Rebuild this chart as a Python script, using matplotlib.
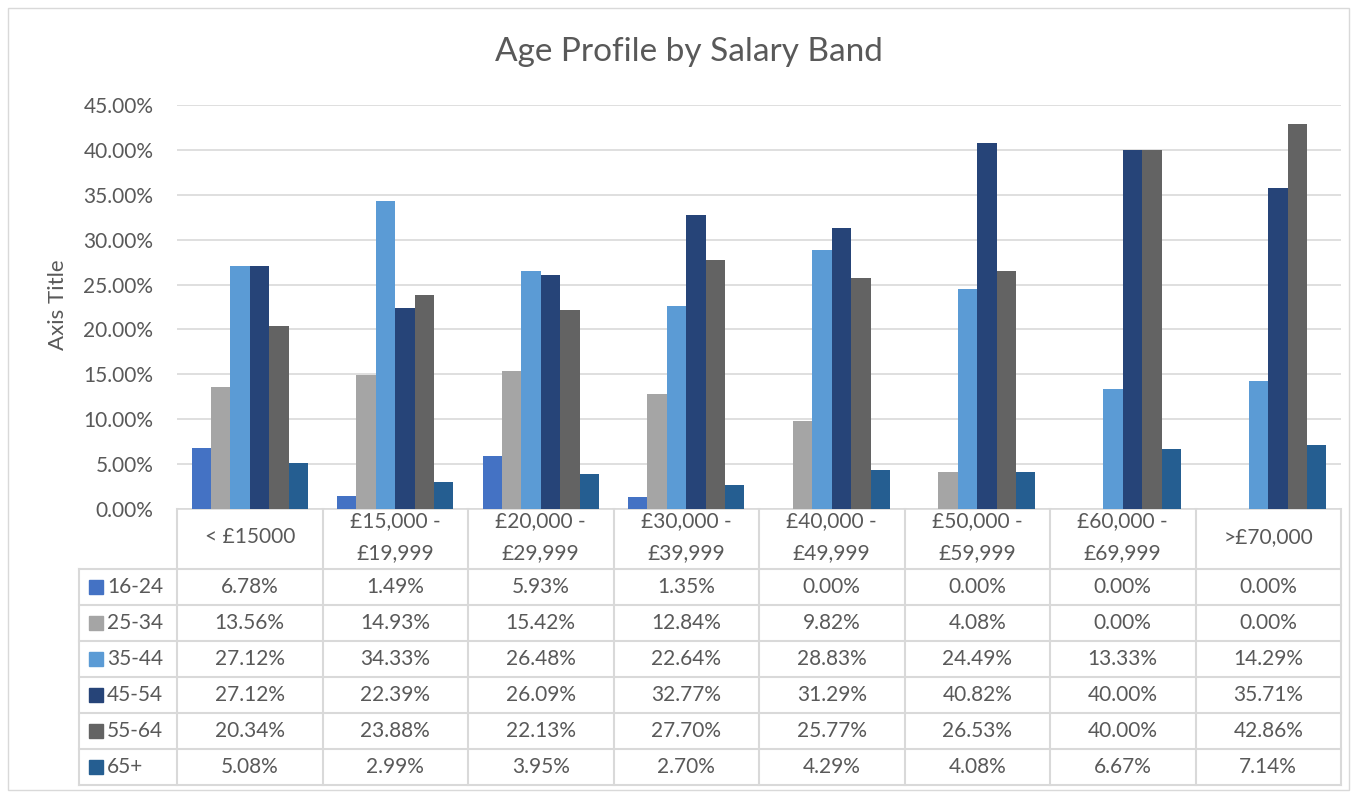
import numpy as np
import matplotlib
matplotlib.use("Agg")
import matplotlib.pyplot as plt
from matplotlib.lines import Line2D
from matplotlib.patches import Rectangle

plt.rcParams['font.family'] = ['Lato', 'DejaVu Sans']

# data
bands = ["< £15000", "£15,000 -\n£19,999", "£20,000 -\n£29,999", "£30,000 -\n£39,999",
         "£40,000 -\n£49,999", "£50,000 -\n£59,999", "£60,000 -\n£69,999", ">£70,000"]
age_groups = ["16-24", "25-34", "35-44", "45-54", "55-64", "65+"]
s_16_24 = [6.78, 1.49, 5.93, 1.35, 0.00, 0.00, 0.00, 0.00]
s_25_34 = [13.56, 14.93, 15.42, 12.84, 9.82, 4.08, 0.00, 0.00]
s_35_44 = [27.12, 34.33, 26.48, 22.64, 28.83, 24.49, 13.33, 14.29]
s_45_54 = [27.12, 22.39, 26.09, 32.77, 31.29, 40.82, 40.00, 35.71]
s_55_64 = [20.34, 23.88, 22.13, 27.70, 25.77, 26.53, 40.00, 42.86]
s_65p = [5.08, 2.99, 3.95, 2.70, 4.29, 4.08, 6.67, 7.14]
series = [s_16_24, s_25_34, s_35_44, s_45_54, s_55_64, s_65p]
colors = ["#4472C4", "#A5A5A5", "#5B9BD5", "#264478", "#636363", "#255E91"]

W, H = 1351, 794
fig = plt.figure(figsize=(W / 100, H / 100), dpi=100)
txt_col = "#595959"
grid_col = "#d9d9d9"
fs = 15


def fx(px):
    return px / W


def fy(py):
    return 1 - py / H


# outer chart border
fig.add_artist(Rectangle((fx(8), fy(790)), fx(1341), 782 / H, transform=fig.transFigure,
                         fill=False, edgecolor=grid_col, lw=1))

left, right, top, bottom = 177, 1341, 105, 509
ax = fig.add_axes([fx(left), fy(bottom), fx(right - left), (bottom - top) / H])

n = len(bands)
x = np.arange(n)
bw = 0.8 / len(series)
for i, (vals, c) in enumerate(zip(series, colors)):
    ax.bar(x - 0.4 + bw * (i + 0.5), np.array(vals) / 100, width=bw, color=c, zorder=3)

ax.set_xlim(-0.5, n - 0.5)
ax.set_ylim(0, 0.45)
ax.set_yticks(np.arange(0, 0.451, 0.05))
ax.set_yticklabels(["%.2f%%" % (v * 100) for v in np.arange(0, 0.451, 0.05)],
                   fontsize=fs, color=txt_col)
ax.set_xticks([])
ax.tick_params(axis='y', length=0, pad=17)
ax.grid(axis='y', color=grid_col, lw=1.2, zorder=0)
for s in ['top', 'right', 'left']:
    ax.spines[s].set_visible(False)
ax.spines['bottom'].set_color(grid_col)
ax.spines['bottom'].set_linewidth(1.2)
fig.text(fx(58), fy(305), "Axis Title", rotation=90, ha='center', va='center',
         fontsize=16, color=txt_col)

fig.text(fx(689), fy(52), "Age Profile by Salary Band", ha='center', va='center',
         fontsize=24, color=txt_col)

# data table below the axis
col_w = (right - left) / n
head_bot = 569
row_h = 36
tab_bot = head_bot + row_h * len(series)
leg_left = 79


def hline(y, x0, x1):
    fig.add_artist(Line2D([fx(x0), fx(x1)], [fy(y), fy(y)], transform=fig.transFigure,
                          color=grid_col, lw=1.5))


def vline(xp, y0, y1):
    fig.add_artist(Line2D([fx(xp), fx(xp)], [fy(y0), fy(y1)], transform=fig.transFigure,
                          color=grid_col, lw=1.5))


for j in range(n + 1):
    vline(left + j * col_w, bottom, tab_bot)
vline(leg_left, head_bot, tab_bot)
for r in range(len(series) + 1):
    hline(head_bot + r * row_h, leg_left, right)

for j, b in enumerate(bands):
    fig.text(fx(left + (j + 0.5) * col_w), fy(537), b, ha='center',
             va='center', fontsize=fs, color=txt_col, linespacing=1.75)

for r, (name, vals, c) in enumerate(zip(age_groups, series, colors)):
    yc = head_bot + (r + 0.5) * row_h
    fig.add_artist(Rectangle((fx(89), fy(yc + 7)), fx(14), 14 / H, transform=fig.transFigure,
                             color=c))
    fig.text(fx(107), fy(yc), name, ha='left', va='center', fontsize=fs, color=txt_col)
    for j, v in enumerate(vals):
        fig.text(fx(left + (j + 0.5) * col_w), fy(yc), "%.2f%%" % v, ha='center',
                 va='center', fontsize=fs, color=txt_col)

fig.savefig("out.png", dpi=100)
